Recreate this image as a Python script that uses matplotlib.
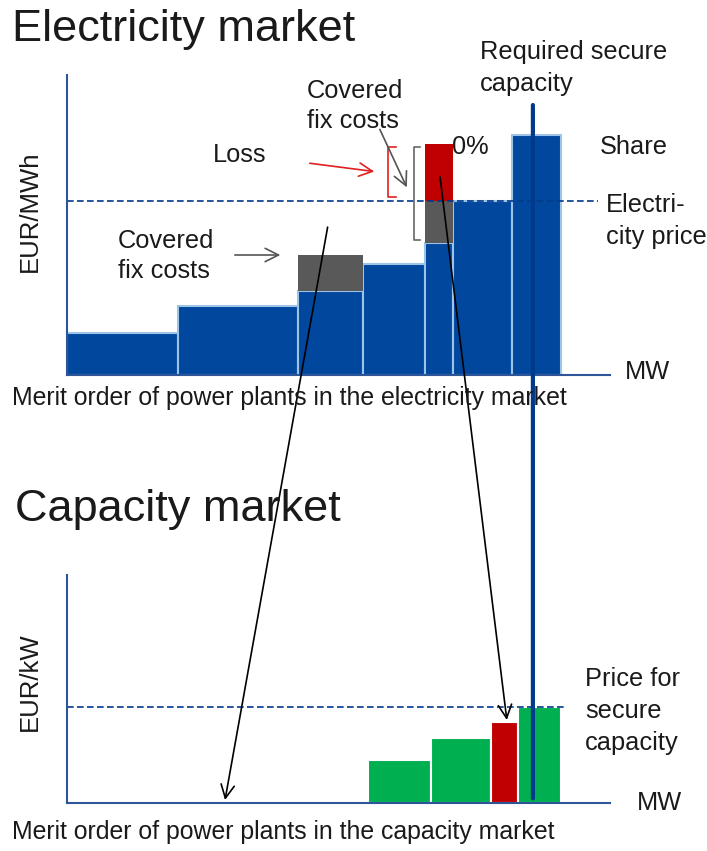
import numpy as np
import matplotlib
matplotlib.use("Agg")
import matplotlib.pyplot as plt
from matplotlib.patches import ConnectionPatch

plt.rcParams['font.family'] = ['Liberation Sans', 'DejaVu Sans']

# electricity market merit order (x: MW units, y: EUR/MWh units)
el_width = [20.5, 22, 12, 11.5, 5, 11, 9]
el_var_cost = [14, 23, 28, 37, 44, 58, 80]
el_fix_covered = [0, 0, 12, 0, 14, 0, 0]
el_loss = [0, 0, 0, 0, 19, 0, 0]
el_price = 58

# capacity market merit order (x: MW units, y: EUR/kW units)
cap_start = 55.5
cap_width = [11.5, 11, 5, 8]
cap_bid = [19, 28.5, 35.5, 42]
cap_kind = ['ok', 'ok', 'marginal', 'ok']
cap_price = 42
secure_capacity = 85.8

BLUE = '#00479D'
EDGE = '#9DC3E6'
GRAY = '#595959'
RED = '#C00000'
GREEN = '#00B050'
NAVY = '#003A8C'
TXT = '#1a1a1a'
AX = '#2E5597'

W, H = 707, 851
fig = plt.figure(figsize=(W / 100, H / 100), dpi=100)


def fx(x):
    return x / W


def fy(y):
    return 1 - y / H


def t(x, y, s, size=18.3, **kw):
    kw.setdefault('va', 'center')
    kw.setdefault('ha', 'left')
    fig.text(fx(x), fy(y), s, fontsize=size, color=TXT, **kw)


ax1 = fig.add_axes([fx(67), fy(375), (610 - 67) / W, 300 / H])
ax2 = fig.add_axes([fx(67), fy(803), (610 - 67) / W, 228 / H])
for ax in (ax1, ax2):
    ax.set_xlim(0, 100)
    ax.set_ylim(0, 100)
    ax.set_xticks([])
    ax.set_yticks([])
    for s in ('top', 'right'):
        ax.spines[s].set_visible(False)
    for s in ('left', 'bottom'):
        ax.spines[s].set_color(AX)
        ax.spines[s].set_linewidth(1.5)
    ax.patch.set_alpha(0)

# top chart
left = np.concatenate([[0], np.cumsum(el_width)[:-1]])
var = np.array(el_var_cost)
fix = np.array(el_fix_covered)
loss = np.array(el_loss)
ax1.bar(left, var, width=el_width, align='edge', color=BLUE,
        edgecolor=EDGE, linewidth=1.5)
ax1.bar(left, fix, bottom=var, width=el_width, align='edge', color=GRAY,
        linewidth=0)
ax1.bar(left, loss, bottom=var + fix, width=el_width, align='edge', color=RED,
        linewidth=0)
ax1.plot([0, 97.8], [el_price, el_price], ls='--', color=NAVY, lw=1.2,
         dashes=(4, 2), clip_on=False)

# brackets at the marginal plant
i = 4
top = var[i] + fix[i] + loss[i]
xr = left[i] - 6.9
ax1.plot([xr + 1.4, xr, xr, xr + 1.4],
         [var[i] + fix[i] + 1.3, var[i] + fix[i] + 1.3, top - 1, top - 1],
         color='#E02020', lw=1.2)
xg = left[i] - 2.1
ax1.plot([xg + 1.2, xg, xg, xg + 1.2],
         [var[i] + 1, var[i] + 1, top - 1, top - 1],
         color='#666666', lw=1.2)

arr = dict(arrowstyle='->', lw=1.2, mutation_scale=24)
ax1.annotate('', xy=(62.8, 61.7), xytext=(57.4, 82.7),
             arrowprops=dict(color='#555555', **arr))
ax1.annotate('', xy=(57.1, 67.7), xytext=(44.2, 70.7),
             arrowprops=dict(color='#E02020', **arr))
ax1.annotate('', xy=(39.8, var[2] + fix[2]), xytext=(30.4, var[2] + fix[2]),
             arrowprops=dict(color='#555555', **arr))

# bottom chart
cleft = cap_start + np.concatenate([[0], np.cumsum(cap_width)[:-1]])
ccol = [RED if k == 'marginal' else GREEN for k in cap_kind]
ax2.bar(cleft, cap_bid, width=cap_width, align='edge', color=ccol,
        edgecolor='white', linewidth=1.5)
ax2.plot([0, 92.1], [cap_price, cap_price], ls='--', color=NAVY, lw=1.2,
         dashes=(4, 2), clip_on=False)

# links between the markets
vline = ConnectionPatch(xyA=(secure_capacity, 90), coordsA=ax1.transData,
                        xyB=(secure_capacity, 2), coordsB=ax2.transData,
                        color=NAVY, lw=3)
fig.add_artist(vline)
for a, b in [((48, 49.3), (29.1, 1.3)), ((68.7, 66), (81, 36.4))]:
    cp = ConnectionPatch(xyA=a, coordsA=ax1.transData, xyB=b,
                         coordsB=ax2.transData, arrowstyle='->', color='black',
                         lw=1.2, mutation_scale=24)
    fig.add_artist(cp)

# texts
t(12, 30, 'Electricity market', size=32.5)
t(15, 510, 'Capacity market', size=32.5)
t(30, 211, 'EUR/MWh', size=18.5, rotation=90, ha='center')
t(30, 682, 'EUR/kW', size=18.5, rotation=90, ha='center')
t(12, 398, 'Merit order of power plants in the electricity market', size=17.9)
t(12, 832, 'Merit order of power plants in the capacity market', size=17.9)
t(625, 372, 'MW')
t(637, 803, 'MW')
t(480, 68, 'Required secure\ncapacity', linespacing=1.45)
t(600, 147, 'Share')
t(606, 221, 'Electri-\ncity price', linespacing=1.45)
t(213, 155, 'Loss')
t(307, 106, 'Covered\nfix costs', linespacing=1.3)
t(452, 147, '0%')
t(118, 256, 'Covered\nfix costs', linespacing=1.35)
t(585, 711, 'Price for\nsecure\ncapacity', linespacing=1.4)

fig.savefig('out.png', dpi=100)
